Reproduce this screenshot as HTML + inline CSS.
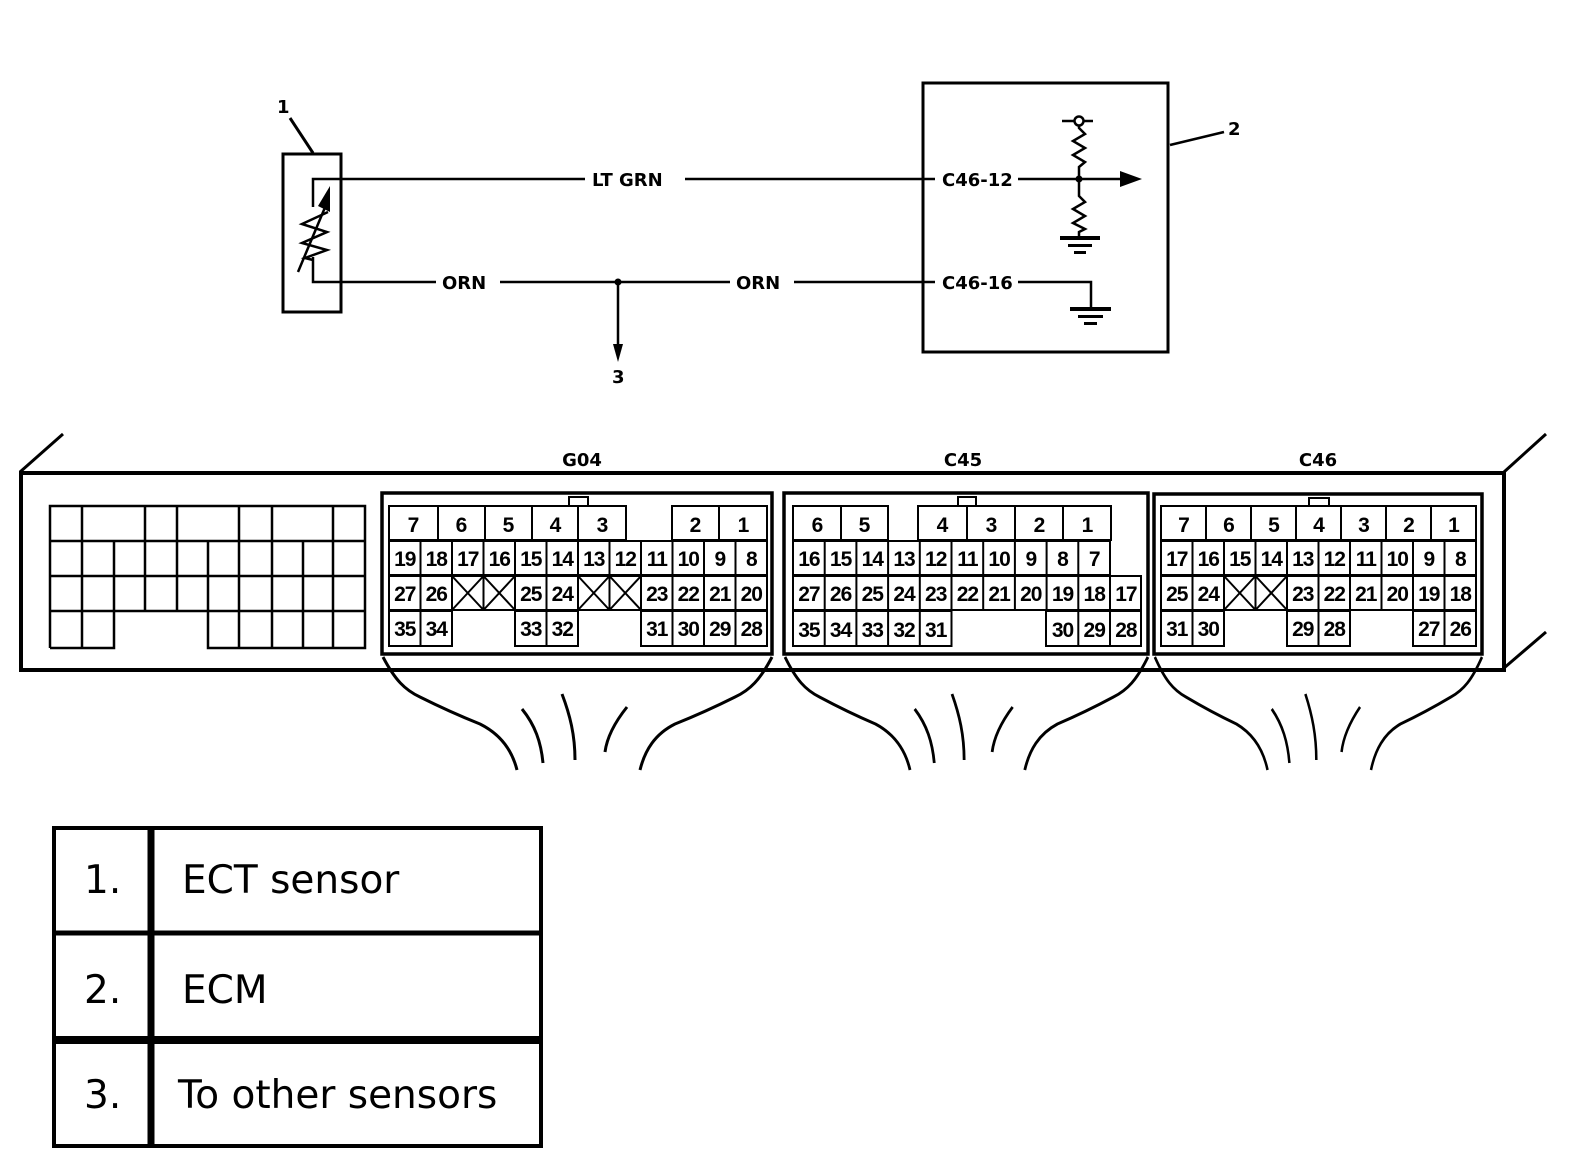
<!DOCTYPE html>
<html><head><meta charset="utf-8"><style>html,body{margin:0;padding:0;background:#fff}svg{display:block}</style></head>
<body>
<svg xmlns="http://www.w3.org/2000/svg" width="1584" height="1162" viewBox="0 0 1584 1162">
<g fill="none" stroke="#000" stroke-width="3">
<rect x="283" y="154" width="58" height="158"/>
<line x1="290" y1="118" x2="313" y2="153"/>
<polyline points="313,207 313,179 935,179" stroke-width="2.5"/>
<polyline points="313,257 313,282 935,282" stroke-width="2.5"/>
<line x1="298" y1="272" x2="326" y2="205" stroke-width="2.5"/>
<polyline points="328,212 302,224 327,232 302,243 327,250 305,258 313,260" stroke-width="2.5"/>
<line x1="618" y1="282" x2="618" y2="350" stroke-width="2.5"/>
<rect x="923" y="83" width="245" height="269"/>
<line x1="1170" y1="145" x2="1224" y2="132" stroke-width="2.5"/>
<line x1="1018" y1="179" x2="1125" y2="179" stroke-width="2.5"/>
<polyline points="1079,125 1079,128 1085,134 1073,141 1085,148 1073,155 1085,162 1079,167 1079,196 1085,202 1073,209 1085,216 1073,223 1085,229 1079,232 1079,238" stroke-width="2.5"/>
<line x1="1062" y1="121" x2="1093" y2="121" stroke-width="2.5"/>
<polyline points="1018,282 1091,282 1091,308" stroke-width="2.5"/>
<rect x="21" y="473" width="1483" height="197" stroke-width="4"/>
<line x1="20" y1="472" x2="63" y2="434"/>
<line x1="1504" y1="472" x2="1546" y2="434"/>
<line x1="1504" y1="668" x2="1546" y2="632"/>
<g stroke-width="2.5">
<polyline points="50,648 50,506 365,506 365,648 303,648 208,648 208,611 114,611 114,648 50,648"/>
<line x1="50" y1="541" x2="365" y2="541"/><line x1="50" y1="576" x2="365" y2="576"/><line x1="50" y1="611" x2="114" y2="611"/><line x1="208" y1="611" x2="365" y2="611"/>
<line x1="82" y1="506" x2="82" y2="648"/><line x1="145" y1="506" x2="145" y2="611"/><line x1="177" y1="506" x2="177" y2="611"/><line x1="239" y1="506" x2="239" y2="648"/><line x1="272" y1="506" x2="272" y2="648"/><line x1="333" y1="506" x2="333" y2="648"/>
<line x1="114" y1="541" x2="114" y2="611"/><line x1="208" y1="541" x2="208" y2="611"/><line x1="303" y1="541" x2="303" y2="648"/>
</g>
<rect x="382" y="493" width="390" height="161" stroke-width="3.5"/>
<rect x="784" y="493" width="364" height="161" stroke-width="3.5"/>
<rect x="1154" y="494" width="328" height="160" stroke-width="3.5"/>
<rect x="569" y="497" width="19" height="9" stroke-width="2"/>
<rect x="958" y="497" width="18" height="9" stroke-width="2"/>
<rect x="1309" y="498" width="20" height="8" stroke-width="2"/>
</g>
<g fill="#000" stroke="none">
<polygon points="330,186 318,206 330,212"/>
<polygon points="613,344 623,344 618,362"/>
<polygon points="1120,171 1120,187 1142,179"/>
<circle cx="618" cy="282" r="3.5"/><circle cx="1079" cy="179" r="3.5"/>
<rect x="1060" y="236" width="40" height="4"/><rect x="1068" y="244" width="24" height="3"/><rect x="1074" y="251" width="12" height="3"/>
<rect x="1070" y="307" width="41" height="4"/><rect x="1078" y="315" width="25" height="3"/><rect x="1084" y="322" width="13" height="3"/>
</g>
<circle cx="1079" cy="121" r="4.5" fill="#fff" stroke="#000" stroke-width="2.5"/>
<g font-family="DejaVu Sans, sans-serif" font-weight="bold" font-size="18" fill="#000">
<text x="277" y="113">1</text>
<text x="1228" y="135">2</text>
<text x="612" y="383">3</text>
<rect x="585" y="166" width="100" height="26" fill="#fff"/><text x="592" y="186">LT GRN</text>
<rect x="436" y="270" width="64" height="26" fill="#fff"/><text x="442" y="289">ORN</text>
<rect x="730" y="270" width="64" height="26" fill="#fff"/><text x="736" y="289">ORN</text>
<rect x="936" y="166" width="82" height="26" fill="#fff"/><text x="942" y="186">C46-12</text>
<rect x="936" y="270" width="82" height="26" fill="#fff"/><text x="942" y="289">C46-16</text>
<text x="582" y="466" text-anchor="middle">G04</text>
<text x="963" y="466" text-anchor="middle">C45</text>
<text x="1318" y="466" text-anchor="middle">C46</text>
</g>
<g fill="none" stroke="#000" stroke-width="3">
<g>
<path d="M383,657 C395,680 405,690 420,697 C440,707 460,716 480,724 C500,734 512,750 517,770"/>
<path d="M772,657 C760,680 750,690 735,697 C715,707 695,716 675,724 C655,734 645,750 640,770"/>
<path d="M522,709 C535,725 541,742 543,763"/>
<path d="M562,694 C570,715 575,735 575,760"/>
<path d="M627,707 C615,722 607,737 605,752"/>
</g>
<g transform="translate(966,0) scale(0.933,1) translate(-577,0)"><path d="M383,657 C395,680 405,690 420,697 C440,707 460,716 480,724 C500,734 512,750 517,770"/><path d="M772,657 C760,680 750,690 735,697 C715,707 695,716 675,724 C655,734 645,750 640,770"/><path d="M522,709 C535,725 541,742 543,763"/><path d="M562,694 C570,715 575,735 575,760"/><path d="M627,707 C615,722 607,737 605,752"/></g>
<g transform="translate(1318,0) scale(0.841,1) translate(-577,0)"><path d="M383,657 C395,680 405,690 420,697 C440,707 460,716 480,724 C500,734 512,750 517,770"/><path d="M772,657 C760,680 750,690 735,697 C715,707 695,716 675,724 C655,734 645,750 640,770"/><path d="M522,709 C535,725 541,742 543,763"/><path d="M562,694 C570,715 575,735 575,760"/><path d="M627,707 C615,722 607,737 605,752"/></g>
</g>
<g fill="none" stroke="#000" stroke-width="2">
<rect x="389" y="506" width="49" height="34"/><rect x="438" y="506" width="47" height="34"/><rect x="485" y="506" width="47" height="34"/><rect x="532" y="506" width="46" height="34"/><rect x="578" y="506" width="48" height="34"/><rect x="672" y="506" width="47" height="34"/><rect x="719" y="506" width="48" height="34"/>
<rect x="389" y="541" width="378" height="34"/><rect x="389" y="576" width="378" height="34"/>
<rect x="389" y="611" width="63" height="35"/><rect x="515" y="611" width="63" height="35"/><rect x="641" y="611" width="126" height="35"/>
<path d="M420.5,541V610M452,541V610M483.5,541V610M515,541V646M546.5,541V646M578,541V646M609.5,541V610M641,541V646M672.5,541V646M704,541V646M735.5,541V646M420.5,611V646"/>
<path d="M452,576L483.5,610M483.5,576L452,610M483.5,576L515,610M515,576L483.5,610M578,576L609.5,610M609.5,576L578,610M609.5,576L641,610M641,576L609.5,610"/>
<rect x="793" y="506" width="48" height="34"/><rect x="841" y="506" width="47" height="34"/><rect x="918" y="506" width="49" height="34"/><rect x="967" y="506" width="48" height="34"/><rect x="1015" y="506" width="48" height="34"/><rect x="1063" y="506" width="48" height="34"/>
<rect x="793" y="541" width="317" height="34"/><rect x="793" y="576" width="348" height="34"/>
<rect x="793" y="611" width="158.5" height="35"/><rect x="1046" y="611" width="95" height="35"/>
<path d="M824.7,541V646M856.4,541V646M888.1,541V646M919.8,541V646M951.5,541V610M983.2,541V610M1014.9,541V610M1046.6,541V610M1078.3,541V646M1110,576V646"/>
<rect x="1161" y="506" width="45" height="34"/><rect x="1206" y="506" width="45" height="34"/><rect x="1251" y="506" width="45" height="34"/><rect x="1296" y="506" width="45" height="34"/><rect x="1341" y="506" width="45" height="34"/><rect x="1386" y="506" width="45" height="34"/><rect x="1431" y="506" width="45" height="34"/>
<rect x="1161" y="541" width="315" height="34"/><rect x="1161" y="576" width="315" height="34"/>
<rect x="1161" y="611" width="63" height="35"/><rect x="1287" y="611" width="63" height="35"/><rect x="1413" y="611" width="63" height="35"/>
<path d="M1192.5,541V646M1224,541V610M1255.5,541V610M1287,541V610M1318.5,541V646M1350,541V610M1381.5,541V610M1413,541V610M1444.5,541V646"/>
<path d="M1224,576L1255.5,610M1255.5,576L1224,610M1255.5,576L1287,610M1287,576L1255.5,610"/>
</g>
<g font-family="Liberation Sans, sans-serif" font-weight="bold" font-size="21" fill="#000" text-anchor="middle" letter-spacing="-1">
<text x="413" y="532">7</text><text x="461" y="532">6</text><text x="508" y="532">5</text><text x="555" y="532">4</text><text x="602" y="532">3</text><text x="695" y="532">2</text><text x="743" y="532">1</text>
<text x="404.8" y="566">19</text><text x="436.3" y="566">18</text><text x="467.8" y="566">17</text><text x="499.3" y="566">16</text><text x="530.8" y="566">15</text><text x="562.3" y="566">14</text><text x="593.8" y="566">13</text><text x="625.3" y="566">12</text><text x="656.8" y="566">11</text><text x="688.3" y="566">10</text><text x="719.8" y="566">9</text><text x="751.3" y="566">8</text>
<text x="404.8" y="601">27</text><text x="436.3" y="601">26</text><text x="530.8" y="601">25</text><text x="562.3" y="601">24</text><text x="656.8" y="601">23</text><text x="688.3" y="601">22</text><text x="719.8" y="601">21</text><text x="751.3" y="601">20</text>
<text x="404.8" y="636">35</text><text x="436.3" y="636">34</text><text x="530.8" y="636">33</text><text x="562.3" y="636">32</text><text x="656.8" y="636">31</text><text x="688.3" y="636">30</text><text x="719.8" y="636">29</text><text x="751.3" y="636">28</text>
<text x="817" y="532">6</text><text x="864" y="532">5</text><text x="942" y="532">4</text><text x="991" y="532">3</text><text x="1039" y="532">2</text><text x="1087" y="532">1</text>
<text x="808.9" y="566">16</text><text x="840.6" y="566">15</text><text x="872.3" y="566">14</text><text x="904" y="566">13</text><text x="935.7" y="566">12</text><text x="967.4" y="566">11</text><text x="999.1" y="566">10</text><text x="1030.8" y="566">9</text><text x="1062.5" y="566">8</text><text x="1094.2" y="566">7</text>
<text x="808.9" y="601">27</text><text x="840.6" y="601">26</text><text x="872.3" y="601">25</text><text x="904" y="601">24</text><text x="935.7" y="601">23</text><text x="967.4" y="601">22</text><text x="999.1" y="601">21</text><text x="1030.8" y="601">20</text><text x="1062.5" y="601">19</text><text x="1094.2" y="601">18</text><text x="1125.9" y="601">17</text>
<text x="808.9" y="637">35</text><text x="840.6" y="637">34</text><text x="872.3" y="637">33</text><text x="904" y="637">32</text><text x="935.7" y="637">31</text><text x="1062.5" y="637">30</text><text x="1094.2" y="637">29</text><text x="1125.9" y="637">28</text>
<text x="1183.5" y="532">7</text><text x="1228.5" y="532">6</text><text x="1273.5" y="532">5</text><text x="1318.5" y="532">4</text><text x="1363.5" y="532">3</text><text x="1408.5" y="532">2</text><text x="1453.5" y="532">1</text>
<text x="1176.8" y="566">17</text><text x="1208.3" y="566">16</text><text x="1239.8" y="566">15</text><text x="1271.3" y="566">14</text><text x="1302.8" y="566">13</text><text x="1334.3" y="566">12</text><text x="1365.8" y="566">11</text><text x="1397.3" y="566">10</text><text x="1428.8" y="566">9</text><text x="1460.3" y="566">8</text>
<text x="1176.8" y="601">25</text><text x="1208.3" y="601">24</text><text x="1302.8" y="601">23</text><text x="1334.3" y="601">22</text><text x="1365.8" y="601">21</text><text x="1397.3" y="601">20</text><text x="1428.8" y="601">19</text><text x="1460.3" y="601">18</text>
<text x="1176.8" y="636">31</text><text x="1208.3" y="636">30</text><text x="1302.8" y="636">29</text><text x="1334.3" y="636">28</text><text x="1428.8" y="636">27</text><text x="1460.3" y="636">26</text>
</g>
<g fill="none" stroke="#000">
<rect x="54" y="828" width="487" height="318" stroke-width="4"/>
<line x1="151" y1="828" x2="151" y2="1146" stroke-width="7"/>
<line x1="54" y1="933" x2="541" y2="933" stroke-width="5"/>
<line x1="54" y1="1040" x2="541" y2="1040" stroke-width="8"/>
</g>
<g font-family="DejaVu Sans, Verdana, sans-serif" font-size="39" fill="#000">
<text x="84" y="893">1.</text><text x="182" y="893">ECT sensor</text>
<text x="84" y="1003">2.</text><text x="182" y="1003">ECM</text>
<text x="84" y="1108">3.</text><text x="178" y="1108">To other sensors</text>
</g>
</svg>
</body></html>
